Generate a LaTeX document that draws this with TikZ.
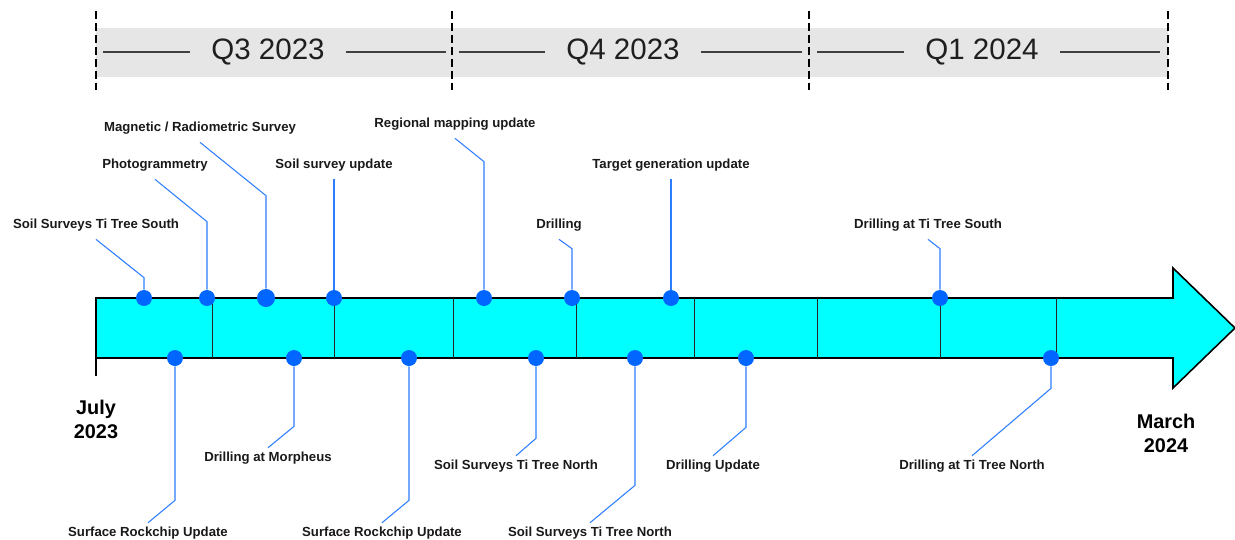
\documentclass[tikz,border=0pt]{standalone}
\usepackage{fontspec}
\setmainfont{Liberation Sans}
\usepackage{tikz}
\definecolor{barcyan}{RGB}{0,255,255}
\definecolor{dotblue}{RGB}{0,102,255}
\definecolor{linkblue}{RGB}{45,125,255}
\definecolor{bandgray}{RGB}{230,230,230}

\begin{document}
\begin{tikzpicture}[x=0.02cm, y=-0.02cm,
		lbl/.style={font=\bfseries\fontsize{7.5}{9}\selectfont, text=black!90, inner xsep=0pt, text height=5.5pt, text depth=1.5pt, yshift=-1pt},
		toplbl/.style={lbl, inner ysep=4.6pt},
		botlbl/.style={lbl, inner ysep=2pt},
		datelbl/.style={font=\bfseries\fontsize{11.3}{13.7}\selectfont, align=center},
		qtr/.style={font=\fontsize{16.8}{18}\selectfont, text=black!88, inner xsep=12pt},
		qline/.style={black!75, line width=0.6pt},
		qdash/.style={black, line width=1.1pt, dash pattern=on 4.5pt off 2.3pt},
		dot/.style={circle, fill=dotblue, draw=none, inner sep=0pt, minimum size=0.32cm},
		link/.style={linkblue, line width=0.6pt},
		divider/.style={black!85, line width=0.5pt}]
					\useasboundingbox (0,0) rectangle (1235,539);
					% quarters
					\fill[bandgray] (96,28) rectangle (1168,77);
					\node[qtr] (q3) at (268,52) {Q3 2023};
					\node[qtr] (q4) at (623,52) {Q4 2023};
					\node[qtr] (q1) at (982,52) {Q1 2024};
					\draw[qline] (103,52) -- (q3.west) (q3.east) -- (446,52);
					\draw[qline] (459,52) -- (q4.west) (q4.east) -- (802,52);
					\draw[qline] (817,52) -- (q1.west) (q1.east) -- (1160,52);
					\foreach \x in {96,452,809,1168}
						\draw[qdash] (\x,11) -- (\x,90);
					% timeline arrow
					\draw[fill=barcyan, line width=0.9pt, line join=miter] (96,298) -- (1173,298) -- (1173,268) -- (1235,328) -- (1173,388) -- (1173,358) -- (96,358) -- cycle;
					\foreach \x in {212,334,453,576,694,817,940,1056}
						\draw[divider] (\x,298) -- (\x,358);
					\draw[line width=0.9pt] (96,358) -- (96,376);
					\node[datelbl] (start) at (96,419) {July\\2023};
					\node[datelbl] (end) at (1166,433) {March\\2024};
					% events above
					\node[toplbl] (lt1) at (96,223) {Soil Surveys Ti Tree South};
					\node[toplbl] (lt2) at (155,163) {Photogrammetry};
					\node[toplbl] (lt3) at (200,126) {Magnetic / Radiometric Survey};
					\node[toplbl] (lt4) at (334,163) {Soil survey update};
					\node[toplbl] (lt5) at (455,122) {Regional mapping update};
					\node[toplbl] (lt6) at (559,223) {Drilling};
					\node[toplbl] (lt7) at (671,163) {Target generation update};
					\node[toplbl] (lt8) at (928,223) {Drilling at Ti Tree South};
					\node[dot] (t1) at (144,298) {};
					\node[dot] (t2) at (207,298) {};
					\node[dot, minimum size=0.36cm] (t3) at (266,298) {};
					\node[dot] (t4) at (334,298) {};
					\node[dot] (t5) at (484,298) {};
					\node[dot] (t6) at (572,298) {};
					\node[dot] (t7) at (671,298) {};
					\node[dot] (t8) at (940,298) {};
					\draw[link] (t1.north) -- ++(0,-12) -- (lt1.south);
					\draw[link] (t2.north) -- ++(0,-68) -- (lt2.south);
					\draw[link] (t3.north) -- ++(0,-93) -- (lt3.south);
					\draw[link] (t4.north) -- (lt4.south);
					\draw[link] (t5.north) -- ++(0,-128) -- (lt5.south);
					\draw[link] (t6.north) -- ++(0,-41) -- (lt6.south);
					\draw[link] (t7.north) -- (lt7.south);
					\draw[link] (t8.north) -- ++(0,-41) -- (lt8.south);
					% events below
					\node[botlbl] (lb1) at (148,531) {Surface Rockchip Update};
					\node[botlbl] (lb2) at (268,456) {Drilling at Morpheus};
					\node[botlbl] (lb3) at (382,531) {Surface Rockchip Update};
					\node[botlbl] (lb4) at (516,464) {Soil Surveys Ti Tree North};
					\node[botlbl] (lb5) at (590,531) {Soil Surveys Ti Tree North};
					\node[botlbl] (lb6) at (713,464) {Drilling Update};
					\node[botlbl] (lb7) at (972,464) {Drilling at Ti Tree North};
					\node[dot] (b1) at (175,358) {};
					\node[dot] (b2) at (294,358) {};
					\node[dot] (b3) at (409,358) {};
					\node[dot] (b4) at (536,358) {};
					\node[dot] (b5) at (635,358) {};
					\node[dot] (b6) at (746,358) {};
					\node[dot] (b7) at (1051,358) {};
					\draw[link] (b1.south) -- ++(0,134) -- (lb1.north);
					\draw[link] (b2.south) -- ++(0,60) -- (lb2.north);
					\draw[link] (b3.south) -- ++(0,134) -- (lb3.north);
					\draw[link] (b4.south) -- ++(0,72) -- (lb4.north);
					\draw[link] (b5.south) -- ++(0,119) -- (lb5.north);
					\draw[link] (b6.south) -- ++(0,61) -- (lb6.north);
					\draw[link] (b7.south) -- ++(0,22) -- (lb7.north);
			\end{tikzpicture}
\end{document}
